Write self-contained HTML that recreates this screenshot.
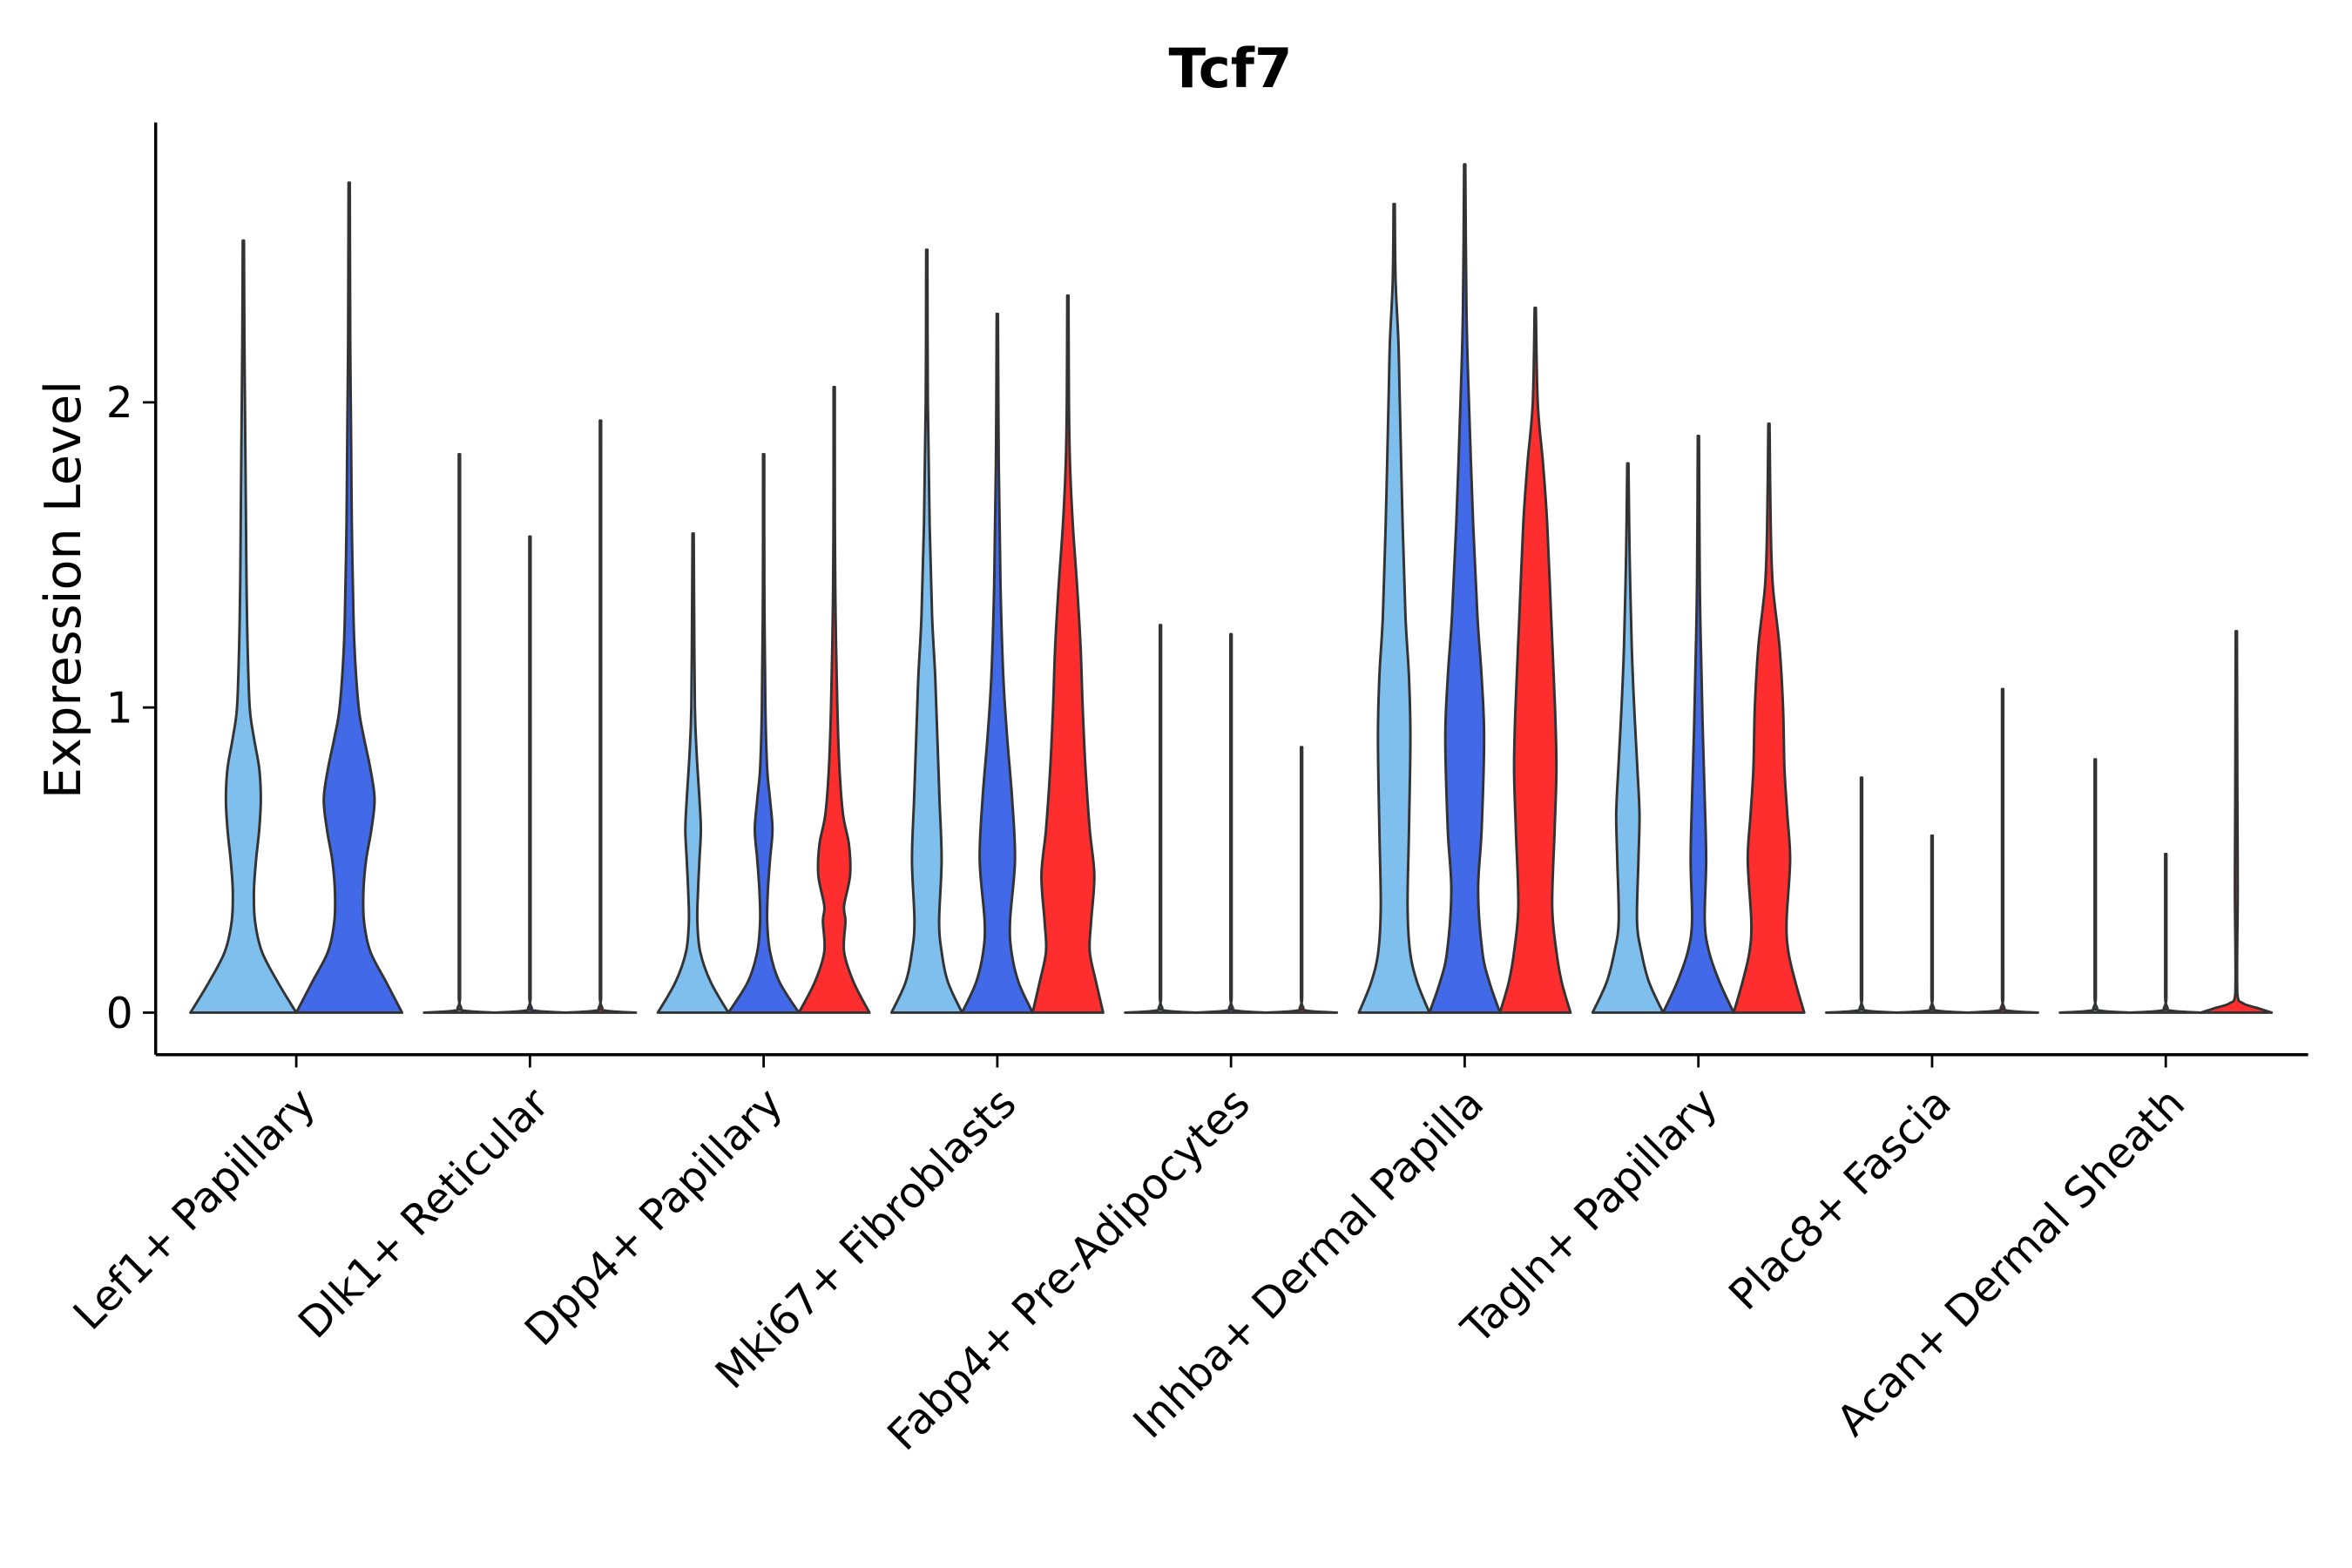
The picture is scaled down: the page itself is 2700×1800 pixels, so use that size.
<!DOCTYPE html>
<html><head><meta charset="utf-8"><style>html,body{margin:0;padding:0;background:#fff}svg{display:block}</style></head>
<body>
<svg id="chart" width="2700" height="1800" viewBox="0 0 1556 1037" preserveAspectRatio="none" xmlns="http://www.w3.org/2000/svg" font-family="'DejaVu Sans', 'Liberation Sans', sans-serif">
<rect width="1556" height="1037" fill="#fff"/>
<text x="814" y="57.6" text-anchor="middle" font-size="36" font-weight="bold">Tcf7</text>
<text transform="translate(53,390) rotate(-90)" text-anchor="middle" font-size="33">Expression Level</text>
<g id="plot"></g>
</svg>
<script>
const categories = ["Lef1+ Papillary","Dlk1+ Reticular","Dpp4+ Papillary","Mki67+ Fibroblasts","Fabp4+ Pre-Adipocytes","Inhba+ Dermal Papilla","Tagln+ Papillary","Plac8+ Fascia","Acan+ Dermal Sheath"];
const groupColors = ["#7fbfee","#4169e8","#ff2e2e"];
const groupCounts = [2,3,3,3,3,3,3,3,3];
const yTicks = [0,1,2];
const maxVals = [[2.53,2.72],[1.83,1.56,1.94],[1.57,1.83,2.05],[2.5,2.29,2.35],[1.27,1.24,0.87],[2.65,2.78,2.31],[1.8,1.89,1.93],[0.77,0.58,1.06],[0.83,0.52,1.25]];
const flat = [[0,1],[0.01,0.02],[0.05,0.01]];
const profiles = [
 [[[0,1],[0.1,0.65],[0.2,0.35],[0.3,0.22],[0.4,0.2],[0.5,0.24],[0.6,0.3],[0.7,0.33],[0.8,0.3],[0.9,0.2],[1.0,0.12],[1.2,0.08],[1.4,0.06],[1.6,0.05],[1.8,0.04],[2.0,0.03],[2.2,0.02]],
  [[0,1],[0.1,0.7],[0.2,0.4],[0.3,0.28],[0.4,0.27],[0.5,0.32],[0.6,0.42],[0.7,0.48],[0.8,0.4],[0.9,0.28],[1.0,0.18],[1.2,0.1],[1.4,0.07],[1.6,0.05],[1.8,0.04],[2.0,0.03],[2.2,0.02]]],
 [flat,flat,flat],
 [[[0,1],[0.1,0.5],[0.2,0.2],[0.3,0.12],[0.4,0.14],[0.5,0.18],[0.6,0.22],[0.7,0.18],[0.85,0.1],[1.0,0.05],[1.3,0.03]],
  [[0,1],[0.1,0.45],[0.2,0.18],[0.3,0.1],[0.4,0.12],[0.5,0.18],[0.6,0.25],[0.7,0.18],[0.8,0.1],[1.0,0.05],[1.4,0.02]],
  [[0,1],[0.1,0.55],[0.2,0.28],[0.3,0.32],[0.35,0.28],[0.45,0.45],[0.55,0.42],[0.65,0.25],[0.8,0.15],[1.0,0.09],[1.3,0.04],[1.6,0.02]]],
 [[[0,1],[0.1,0.6],[0.2,0.42],[0.3,0.35],[0.5,0.42],[0.7,0.36],[0.9,0.3],[1.1,0.24],[1.3,0.15],[1.6,0.08],[2.0,0.03]],
  [[0,1],[0.1,0.6],[0.2,0.4],[0.3,0.36],[0.5,0.5],[0.7,0.42],[0.9,0.28],[1.1,0.17],[1.4,0.09],[1.8,0.04]],
  [[0,1],[0.1,0.8],[0.2,0.62],[0.3,0.66],[0.45,0.75],[0.6,0.62],[0.8,0.5],[1.0,0.42],[1.2,0.36],[1.4,0.26],[1.6,0.14],[1.8,0.06],[2.0,0.03]]],
 [flat,flat,flat],
 [[[0,1],[0.1,0.65],[0.2,0.45],[0.35,0.38],[0.6,0.42],[0.9,0.46],[1.1,0.42],[1.3,0.32],[1.6,0.24],[2.0,0.16],[2.2,0.12],[2.4,0.04]],
  [[0,1],[0.1,0.7],[0.2,0.5],[0.4,0.38],[0.6,0.48],[0.9,0.55],[1.1,0.48],[1.3,0.36],[1.6,0.24],[2.0,0.12],[2.3,0.05]],
  [[0,1],[0.1,0.75],[0.2,0.6],[0.35,0.48],[0.6,0.55],[0.8,0.6],[1.0,0.56],[1.3,0.45],[1.6,0.34],[1.8,0.22],[2.0,0.07]]],
 [[[0,1],[0.1,0.6],[0.2,0.38],[0.3,0.26],[0.5,0.3],[0.65,0.33],[0.8,0.27],[1.0,0.18],[1.2,0.11],[1.5,0.05]],
  [[0,1],[0.1,0.6],[0.2,0.3],[0.3,0.18],[0.5,0.22],[0.7,0.18],[0.9,0.13],[1.1,0.09],[1.4,0.04]],
  [[0,1],[0.1,0.75],[0.2,0.55],[0.3,0.5],[0.5,0.6],[0.65,0.52],[0.8,0.44],[1.0,0.4],[1.2,0.3],[1.4,0.11],[1.6,0.05]]],
 [flat,flat,flat],
 [flat,flat,[[0,1],[0.015,0.6],[0.03,0.2],[0.06,0.03],[0.4,0.04],[0.7,0.03]]]
];
const NS="http://www.w3.org/2000/svg";
const X0=103,X1=1527,Y0=697.5,Ytop=81,firstC=196,step=154.6,slot=140;
function yScale(v){return 669.7-v*201.8;}
function xScale(i){return firstC+i*step;}
function el(t,a){const e=document.createElementNS(NS,t);for(const k in a)e.setAttribute(k,a[k]);return e;}
function clampY(y,a,b){return Math.min(Math.max(y,Math.min(a,b)),Math.max(a,b));}
function smooth(pts){
  let d="M"+pts[0][0].toFixed(2)+","+pts[0][1].toFixed(2);
  for(let i=0;i<pts.length-1;i++){
    const p0=pts[Math.max(i-1,0)],p1=pts[i],p2=pts[i+1],p3=pts[Math.min(i+2,pts.length-1)];
    const c1=[p1[0]+(p2[0]-p0[0])/6,clampY(p1[1]+(p2[1]-p0[1])/6,p1[1],p2[1])];
    const c2=[p2[0]-(p3[0]-p1[0])/6,clampY(p2[1]-(p3[1]-p1[1])/6,p1[1],p2[1])];
    d+="C"+c1[0].toFixed(2)+","+c1[1].toFixed(2)+" "+c2[0].toFixed(2)+","+c2[1].toFixed(2)+" "+p2[0].toFixed(2)+","+p2[1].toFixed(2);
  }
  return d;
}
const plot=document.getElementById('plot');
categories.forEach((cat,i)=>{
  const n=groupCounts[i],w=slot/n;
  for(let g=0;g<n;g++){
    const cx=xScale(i)-slot/2+w*(g+0.5);
    const half=w/2;
    const mx=maxVals[i][g];
    const knots=profiles[i][g].filter(k=>k[0]<mx).concat([[mx,0.008]]);
    const right=knots.map(k=>[cx+Math.max(k[1]*half,0.4),yScale(k[0])]);
    const left=knots.slice().reverse().map(k=>[cx-Math.max(k[1]*half,0.4),yScale(k[0])]);
    const d=smooth(right)+"L"+smooth(left).slice(1)+"Z";
    const path=el('path',{d:d,fill:groupColors[g],stroke:'#333','stroke-width':1.7,'stroke-linejoin':'round'});
    
    
    plot.appendChild(path);
  }
  const tx=xScale(i);
  const tk=el('line',{x1:tx,x2:tx,y1:Y0,y2:Y0+8.5,stroke:'#000','stroke-width':1.6});
  
  
  plot.appendChild(tk);
  const lb=el('text',{transform:`translate(${tx+14},${Y0+34}) rotate(-45)`,'text-anchor':'end','font-size':28,fill:'#000'});
  lb.textContent=cat;
  
  
  plot.appendChild(lb);
});
yTicks.forEach(v=>{
  const y=yScale(v);
  const t=el('line',{x1:X0-8.5,x2:X0,y1:y,y2:y,stroke:'#000','stroke-width':1.6});
  
  
  plot.appendChild(t);
  const l=el('text',{x:X0-15,y:y+10,'text-anchor':'end','font-size':28});
  l.textContent=v;
  
  
  plot.appendChild(l);
});
const ya=el('line',{x1:X0,x2:X0,y1:Ytop,y2:Y0,stroke:'#000','stroke-width':2});


plot.appendChild(ya);
const xa=el('line',{x1:X0,x2:X1,y1:Y0,y2:Y0,stroke:'#000','stroke-width':2});


plot.appendChild(xa);
</script>
</body></html>
